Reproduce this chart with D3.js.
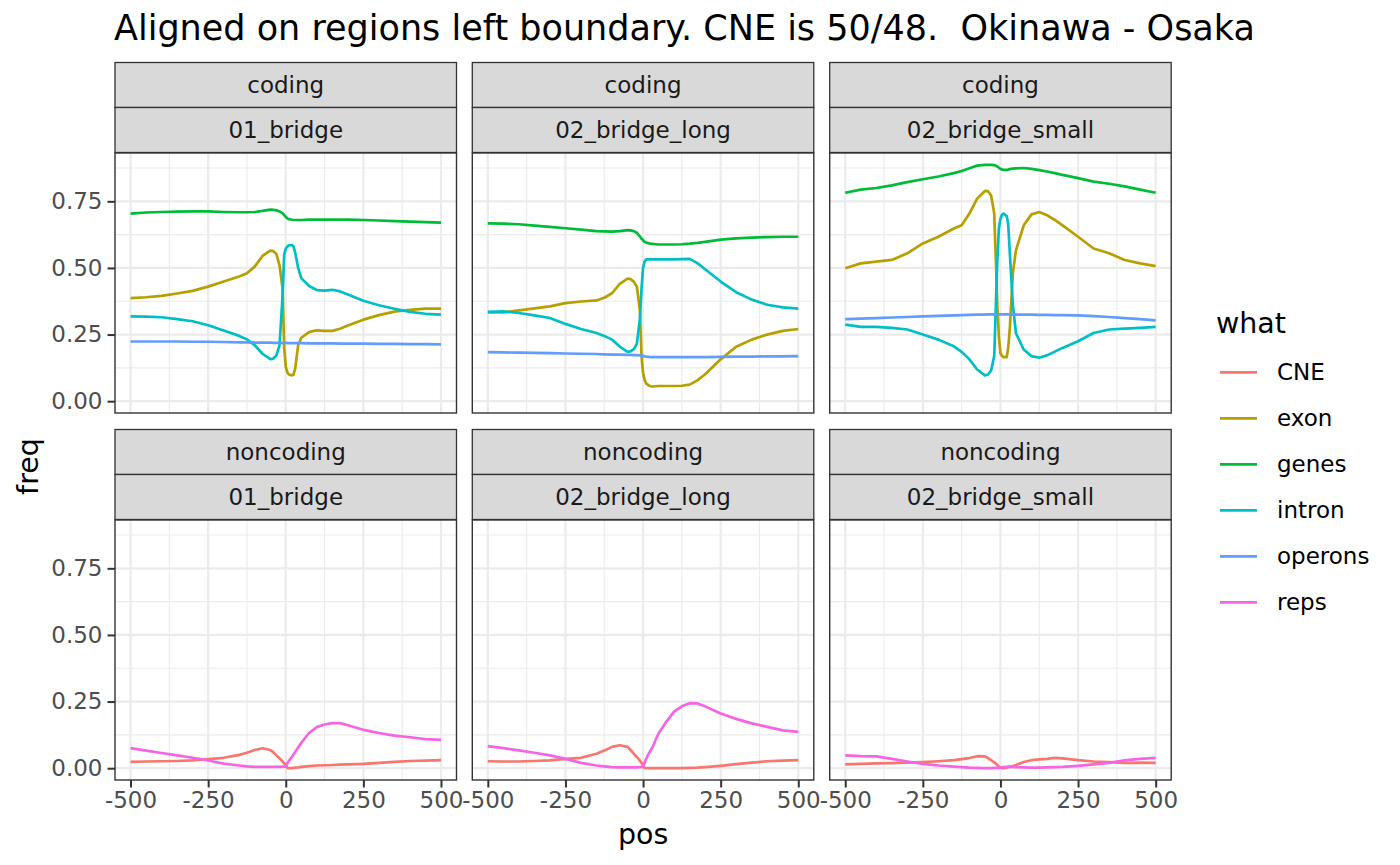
<!DOCTYPE html>
<html><head><meta charset="utf-8">
<script src="https://cdn.jsdelivr.net/npm/d3@7"></script>
<style>body{margin:0;background:#fff;} svg{display:block;}</style>
</head><body>
<script>
// ---------- data ----------
const titleText = "Aligned on regions left boundary. CNE is 50/48.  Okinawa - Osaka";
const seriesNames = ["CNE","exon","genes","intron","operons","reps"];
const seriesColors = ["#F8766D","#B79F00","#00BA38","#00BFC4","#619CFF","#F564E3"];
const rowLabels = ["coding","noncoding"];
const colLabels = ["01_bridge","02_bridge_long","02_bridge_small"];
const xTicks = [-500,-250,0,250,500];
const xMinor = [-375,-125,125,375];
const yTicks = [0,0.25,0.5,0.75];
const yMinor = [0.125,0.375,0.625,0.875];

const pos = [-500,-450,-400,-350,-300,-250,-200,-150,-125,-100,-75,-50,-40,-30,-20,-10,-5,0,5,10,20,25,30,40,50,75,100,125,150,175,200,250,300,350,400,450,500];

// coding / 01_bridge
const c1Genes   = [.704,.708,.710,.711,.712,.712,.710,.709,.709,.710,.714,.719,.718,.716,.712,.705,.698,.692,.686,.683,.681,.680,.680,.680,.680,.681,.681,.681,.681,.681,.681,.680,.678,.676,.674,.672,.670];
const c1Exon    = [.387,.390,.395,.404,.414,.430,.449,.468,.480,.505,.545,.565,.563,.552,.510,.420,.200,.130,.108,.100,.097,.100,.120,.210,.238,.259,.266,.264,.264,.272,.284,.306,.323,.336,.343,.347,.347];
const c1Intron  = [.318,.317,.315,.308,.300,.285,.265,.245,.232,.210,.178,.158,.160,.172,.210,.400,.550,.572,.580,.585,.586,.580,.560,.500,.462,.432,.417,.415,.418,.412,.400,.377,.360,.347,.335,.328,.325];
const c1Operons = [.224,.224,.224,.224,.223,.223,.222,.221,.221,.220,.220,.220,.219,.219,.219,.219,.219,.219,.218,.218,.218,.218,.218,.218,.218,.217,.217,.217,.217,.216,.216,.216,.215,.215,.214,.214,.213];

// coding / 02_bridge_long
const c2Genes   = [.667,.666,.664,.659,.654,.649,.644,.638,.637,.636,.638,.642,.641,.638,.632,.618,.610,.604,.598,.595,.592,.591,.590,.589,.588,.588,.588,.589,.591,.594,.598,.606,.611,.614,.616,.617,.617];
const c2Exon    = [.333,.333,.341,.348,.356,.368,.374,.378,.388,.405,.440,.460,.458,.448,.430,.340,.170,.107,.080,.066,.058,.056,.055,.056,.057,.057,.057,.058,.062,.078,.101,.157,.204,.231,.250,.264,.271];
const c2Intron  = [.335,.337,.331,.322,.312,.290,.271,.256,.245,.231,.205,.185,.187,.195,.215,.310,.420,.500,.525,.532,.532,.532,.532,.532,.532,.532,.532,.533,.534,.518,.495,.449,.409,.381,.362,.352,.347];
const c2Operons = [.184,.183,.182,.181,.180,.179,.178,.177,.176,.175,.175,.174,.174,.173,.173,.172,.171,.170,.168,.167,.166,.165,.165,.165,.165,.165,.165,.165,.165,.165,.165,.166,.167,.167,.168,.168,.169];

// coding / 02_bridge_small
const c3Genes   = [.782,.794,.800,.810,.822,.833,.843,.856,.864,.874,.884,.887,.887,.887,.886,.881,.876,.872,.869,.868,.868,.869,.871,.873,.874,.875,.872,.867,.862,.856,.849,.837,.824,.816,.806,.794,.782];
const c3Exon    = [.499,.517,.524,.530,.555,.592,.617,.648,.660,.704,.760,.789,.788,.772,.704,.360,.240,.180,.170,.165,.165,.200,.270,.480,.567,.660,.701,.710,.698,.680,.660,.617,.573,.555,.530,.517,.507];
const c3Intron  = [.287,.279,.279,.275,.269,.250,.231,.206,.185,.157,.119,.097,.100,.115,.170,.530,.650,.685,.700,.704,.695,.665,.560,.360,.255,.194,.169,.163,.172,.186,.200,.225,.256,.269,.272,.275,.279];
const c3Operons = [.308,.310,.312,.314,.316,.318,.320,.322,.323,.324,.325,.325,.326,.326,.326,.326,.326,.326,.326,.326,.326,.326,.326,.326,.325,.325,.325,.324,.324,.323,.323,.322,.319,.316,.312,.308,.303];

// noncoding / 01_bridge
const n1CNE  = [.024,.025,.026,.027,.029,.034,.039,.050,.058,.068,.075,.068,.060,.048,.037,.025,.018,.012,.001,.000,.000,.001,.002,.003,.005,.008,.010,.011,.012,.013,.014,.016,.020,.024,.027,.028,.030];
const n1Reps = [.075,.066,.057,.048,.039,.029,.017,.010,.007,.005,.005,.005,.005,.005,.005,.006,.006,.007,.018,.027,.043,.051,.060,.078,.095,.132,.154,.164,.169,.169,.161,.144,.132,.122,.116,.109,.106];

// noncoding / 02_bridge_long
const n2CNE  = [.026,.025,.025,.027,.029,.035,.039,.054,.066,.080,.086,.080,.068,.055,.042,.028,.020,.012,.000,.000,.000,.000,.000,.000,.000,.000,.000,.000,.001,.002,.004,.009,.015,.021,.026,.028,.030];
const n2Reps = [.083,.075,.067,.058,.048,.035,.020,.010,.007,.004,.003,.003,.003,.003,.003,.004,.005,.005,.020,.035,.058,.067,.077,.105,.130,.174,.212,.232,.244,.243,.232,.205,.185,.168,.155,.142,.136];

// noncoding / 02_bridge_small
const n3CNE  = [.014,.016,.018,.019,.021,.023,.026,.030,.034,.038,.045,.044,.038,.030,.022,.012,.006,.002,.000,.000,.002,.004,.006,.008,.012,.023,.030,.033,.035,.039,.037,.030,.025,.023,.020,.021,.020];
const n3Reps = [.048,.045,.044,.035,.025,.016,.010,.006,.004,.002,.001,.000,.000,.000,.001,.001,.001,.002,.003,.004,.005,.005,.005,.005,.004,.003,.002,.002,.003,.004,.005,.009,.014,.020,.029,.035,.039];

const panels = [
  {row:0,col:0,lines:{exon:c1Exon,genes:c1Genes,intron:c1Intron,operons:c1Operons}},
  {row:0,col:1,lines:{exon:c2Exon,genes:c2Genes,intron:c2Intron,operons:c2Operons}},
  {row:0,col:2,lines:{exon:c3Exon,genes:c3Genes,intron:c3Intron,operons:c3Operons}},
  {row:1,col:0,lines:{CNE:n1CNE,reps:n1Reps}},
  {row:1,col:1,lines:{CNE:n2CNE,reps:n2Reps}},
  {row:1,col:2,lines:{CNE:n3CNE,reps:n3Reps}}
];

// ---------- layout ----------
const W = 1400, H = 865;
const FONT = "DejaVu Sans";
const SMALL = 23, MID = 28.5, BIG = 35;
const colX = [115, 472.3, 829.7];
const pw = 341.5;
const stripTop = [62.5, 429.5];
const stripH = 45;
const ph = 260;
const panelTop = r => stripTop[r] + 2*stripH + 0.5;

const svg = d3.select("body").append("svg").attr("width",W).attr("height",H)
  .style("font-family",FONT);
svg.append("rect").attr("width",W).attr("height",H).attr("fill","#fff");

const color = d3.scaleOrdinal().domain(seriesNames).range(seriesColors);

const xr = d3.extent(pos);
const xPad = (xr[1]-xr[0])*0.05;
const x = d3.scaleLinear().domain([xr[0]-xPad, xr[1]+xPad]).range([0,pw]);

let allVals = [];
panels.forEach(p => Object.values(p.lines).forEach(a => allVals = allVals.concat(a)));
const yr = d3.extent(allVals);
const yPad = (yr[1]-yr[0])*0.05;
const y = d3.scaleLinear().domain([yr[0]-yPad, yr[1]+yPad]).range([ph,0]);

const line = d3.line().x(d => x(d[0])).y(d => y(d[1]));

// title
svg.append("text").attr("x",114).attr("y",40).attr("font-size",BIG).attr("fill","#000")
  .attr("xml:space","preserve").style("white-space","pre").text(titleText);

panels.forEach(p => {
  const gx = colX[p.col], gy = panelTop(p.row);
  // strips
  [rowLabels[p.row], colLabels[p.col]].forEach((lab,i) => {
    const sy = stripTop[p.row] + i*stripH;
    svg.append("rect").attr("x",gx).attr("y",sy).attr("width",pw).attr("height",stripH)
      .attr("fill","#D9D9D9").attr("stroke","#333333").attr("stroke-width",1.3);
    svg.append("text").attr("x",gx+pw/2).attr("y",sy+stripH/2).attr("text-anchor","middle")
      .attr("dominant-baseline","central").attr("font-size",SMALL).attr("fill","#1A1A1A").text(lab);
  });
  const g = svg.append("g").attr("transform",`translate(${gx},${gy})`);
  g.append("rect").attr("width",pw).attr("height",ph).attr("fill","#fff");
  // minor grid
  g.selectAll(".vmin").data(xMinor).join("line").attr("x1",d=>x(d)).attr("x2",d=>x(d))
    .attr("y1",0).attr("y2",ph).attr("stroke","#EBEBEB").attr("stroke-width",1.1);
  g.selectAll(".hmin").data(yMinor).join("line").attr("y1",d=>y(d)).attr("y2",d=>y(d))
    .attr("x1",0).attr("x2",pw).attr("stroke","#EBEBEB").attr("stroke-width",1.1);
  // major grid
  g.selectAll(".vmaj").data(xTicks).join("line").attr("x1",d=>x(d)).attr("x2",d=>x(d))
    .attr("y1",0).attr("y2",ph).attr("stroke","#EBEBEB").attr("stroke-width",2.2);
  g.selectAll(".hmaj").data(yTicks).join("line").attr("y1",d=>y(d)).attr("y2",d=>y(d))
    .attr("x1",0).attr("x2",pw).attr("stroke","#EBEBEB").attr("stroke-width",2.2);
  // lines
  seriesNames.forEach(s => {
    const vals = p.lines[s];
    if (!vals) return;
    g.append("path").datum(pos.map((px,i)=>[px, vals[i]]))
      .attr("d",line).attr("fill","none").attr("stroke",color(s))
      .attr("stroke-width",2.7).attr("stroke-linejoin","round").attr("stroke-linecap","butt");
  });
  // border
  g.append("rect").attr("width",pw).attr("height",ph).attr("fill","none")
    .attr("stroke","#333333").attr("stroke-width",1.4);

  // axes
  if (p.col === 0) {
    const ax = g.append("g").call(d3.axisLeft(y).tickValues(yTicks).tickFormat(d3.format(".2f")).tickSize(7.5).tickPadding(5));
    styleAxis(ax);
  }
  if (p.row === 1) {
    const ax = g.append("g").attr("transform",`translate(0,${ph})`)
      .call(d3.axisBottom(x).tickValues(xTicks).tickFormat(d => String(d)).tickSize(7.5).tickPadding(4));
    styleAxis(ax);
  }
});

function styleAxis(ax){
  ax.select(".domain").remove();
  ax.selectAll(".tick line").attr("stroke","#333333").attr("stroke-width",2);
  ax.selectAll(".tick text").attr("fill","#4D4D4D").attr("font-size",SMALL).attr("font-family",FONT);
}

// axis titles
svg.append("text").attr("x",(colX[0]+colX[2]+pw)/2).attr("y",844).attr("text-anchor","middle")
  .attr("font-size",MID).attr("fill","#000").text("pos");
svg.append("text").attr("transform",`translate(38,${(panelTop(0)+panelTop(1)+ph)/2}) rotate(-90)`)
  .attr("text-anchor","middle").attr("font-size",MID).attr("fill","#000").text("freq");

// legend
const lg = svg.append("g");
lg.append("text").attr("x",1216).attr("y",333).attr("font-size",MID).attr("fill","#000").text("what");
seriesNames.forEach((s,i) => {
  const ly = 372.3 + i*46;
  lg.append("line").attr("x1",1220).attr("x2",1257).attr("y1",ly).attr("y2",ly)
    .attr("stroke",color(s)).attr("stroke-width",2.7);
  lg.append("text").attr("x",1277).attr("y",ly).attr("dominant-baseline","central")
    .attr("font-size",SMALL).attr("fill","#000").text(s);
});
</script>
</body></html>
